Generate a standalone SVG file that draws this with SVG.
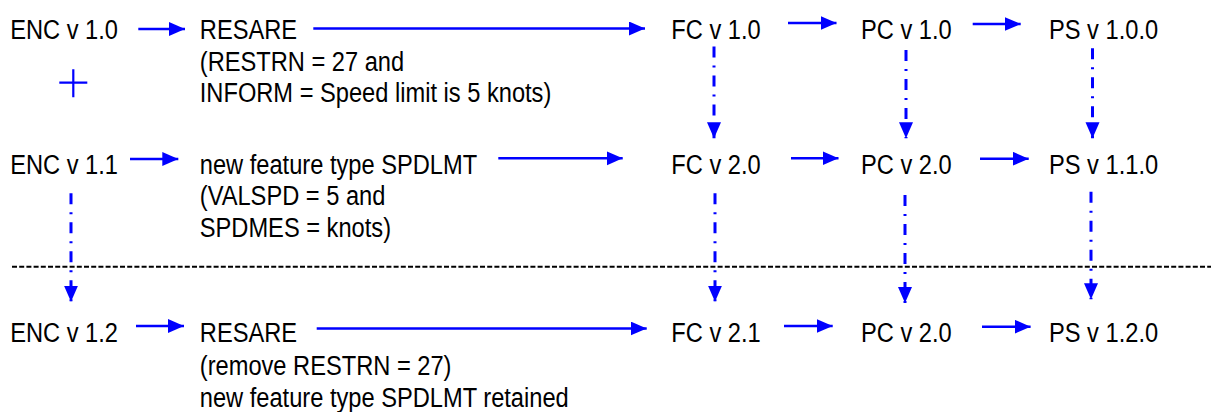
<svg xmlns="http://www.w3.org/2000/svg" width="1211" height="412" viewBox="0 0 1211 412">
  <style>
    text { font-family: "Liberation Sans", Arial, sans-serif; font-size: 28px; fill: #000; }
    .flow { stroke: #0000ff; stroke-width: 2.5; fill: none; marker-end: url(#head); }
    .derive { stroke: #0000ff; stroke-width: 3; fill: none; stroke-dasharray: 11 8 2 8; marker-end: url(#head); }
    .divider { stroke: #000; stroke-width: 2; stroke-dasharray: 5 2.2; fill: none; }
    .plus { stroke: #0000ff; stroke-width: 2.2; fill: none; }
  </style>
  <defs>
    <marker id="head" markerUnits="userSpaceOnUse" markerWidth="17" markerHeight="15" refX="16" refY="7" orient="auto">
      <path d="M0,0 L16,7 L0,14 z" fill="#0000ff"/>
    </marker>
  </defs>
  <rect width="1211" height="412" fill="#fff"/>

  <!-- baseline edition (text condensed horizontally to a narrow face) -->
  <g id="enc-1-0"><text transform="translate(10.2,39.3) scale(0.845,1)">ENC v 1.0</text></g>
  <g id="resare-1">
    <text transform="translate(199.8,39.3) scale(0.845,1)">RESARE</text>
    <text transform="translate(199.8,70.7) scale(0.845,1)">(RESTRN = 27 and</text>
    <text transform="translate(199.8,101.7) scale(0.845,1)">INFORM = Speed limit is 5 knots)</text>
  </g>
  <g id="fc-1-0"><text transform="translate(671.3,39.3) scale(0.845,1)">FC v 1.0</text></g>
  <g id="pc-1-0"><text transform="translate(861,39.3) scale(0.845,1)">PC v 1.0</text></g>
  <g id="ps-1-0-0"><text transform="translate(1049,39.3) scale(0.845,1)">PS v 1.0.0</text></g>
  <g id="plus"><path class="plus" d="M59.3,82.7 H87.3 M73.3,69.3 V97.3"/></g>

  <!-- new feature edition -->
  <g id="enc-1-1"><text transform="translate(10.2,173.8) scale(0.845,1)">ENC v 1.1</text></g>
  <g id="spdlmt">
    <text transform="translate(199.8,173.8) scale(0.845,1)">new feature type SPDLMT</text>
    <text transform="translate(199.8,205.3) scale(0.845,1)">(VALSPD = 5 and</text>
    <text transform="translate(199.8,236.7) scale(0.845,1)">SPDMES = knots)</text>
  </g>
  <g id="fc-2-0"><text transform="translate(671.3,173.8) scale(0.845,1)">FC v 2.0</text></g>
  <g id="pc-2-0"><text transform="translate(861,173.8) scale(0.845,1)">PC v 2.0</text></g>
  <g id="ps-1-1-0"><text transform="translate(1049,173.8) scale(0.845,1)">PS v 1.1.0</text></g>

  <!-- revised edition -->
  <g id="enc-1-2"><text transform="translate(10.2,342) scale(0.845,1)">ENC v 1.2</text></g>
  <g id="resare-2">
    <text transform="translate(199.8,342) scale(0.845,1)">RESARE</text>
    <text transform="translate(199.8,375) scale(0.845,1)">(remove RESTRN = 27)</text>
    <text transform="translate(199.8,407.3) scale(0.845,1)">new feature type SPDLMT retained</text>
  </g>
  <g id="fc-2-1"><text transform="translate(671.3,342) scale(0.845,1)">FC v 2.1</text></g>
  <g id="pc-2-0-b"><text transform="translate(861,342) scale(0.845,1)">PC v 2.0</text></g>
  <g id="ps-1-2-0"><text transform="translate(1049,342) scale(0.845,1)">PS v 1.2.0</text></g>

  <!-- separator -->
  <g id="separator"><path class="divider" d="M12,266.7 H1211"/></g>

  <g id="connectors">
    <!-- row 1 -->
    <path class="flow" d="M138.3,29 H185"/>
    <path class="flow" d="M313.3,28.5 H645"/>
    <path class="flow" d="M788,23 H836.5"/>
    <path class="flow" d="M972.7,24 H1020.7"/>
    <!-- row 2 -->
    <path class="flow" d="M130,159 H178.3"/>
    <path class="flow" d="M498.3,158.3 H622.7"/>
    <path class="flow" d="M791,158.3 H838.5"/>
    <path class="flow" d="M980,158.7 H1028.7"/>
    <!-- row 3 -->
    <path class="flow" d="M136,326 H184"/>
    <path class="flow" d="M316.7,328.5 H646.7"/>
    <path class="flow" d="M784,326 H832.7"/>
    <path class="flow" d="M982,326.7 H1030.6"/>
    <!-- version carry-over -->
    <path class="derive" d="M714,46.5 V138.3"/>
    <path class="derive" d="M906,50 V138.3"/>
    <path class="derive" d="M1092.5,48.3 V138.3"/>
    <path class="derive" d="M71,193.3 V301.7"/>
    <path class="derive" d="M715,193.3 V301.7"/>
    <path class="derive" d="M905,195 V303"/>
    <path class="derive" d="M1091,191.7 V299.3"/>
  </g>
</svg>
